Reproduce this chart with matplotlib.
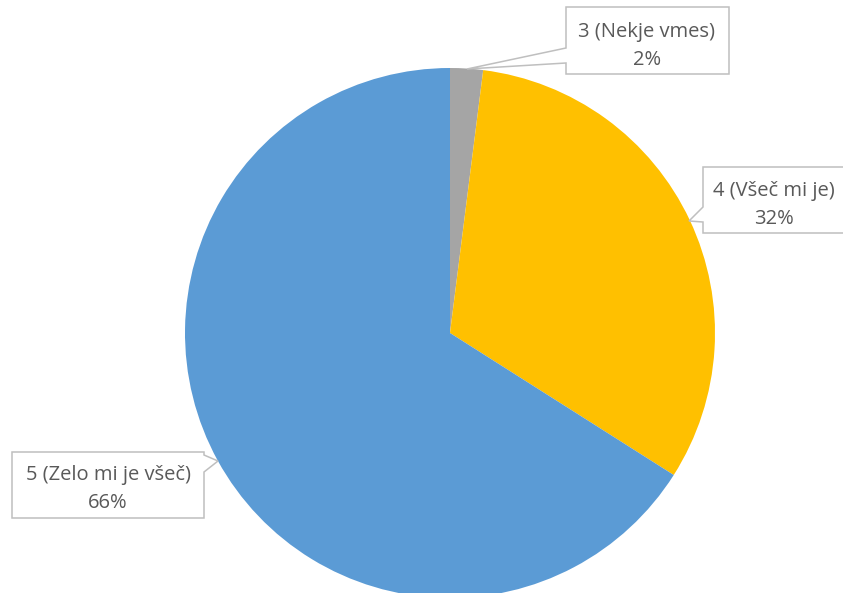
import matplotlib.pyplot as plt
from matplotlib.patches import Polygon

categories = ["3 (Nekje vmes)", "4 (Všeč mi je)", "5 (Zelo mi je všeč)"]
shares = [2, 32, 66]
colors = ["#A5A5A5", "#FFC000", "#5B9BD5"]

W, H = 843, 593

# callout shapes in image pixels (y down): outline polygon and text centre
callouts = [
    ([(566, 7), (729, 7), (729, 74), (566, 74), (566, 63), (467, 69), (566, 48)], (647, 46)),
    ([(703, 167), (860, 167), (860, 233), (703, 233), (703, 222), (689, 221), (703, 207)], (774, 205)),
    ([(12, 452), (204, 452), (204, 455), (218, 461), (204, 472), (204, 518), (12, 518)], (108, 489)),
]

fig = plt.figure(figsize=(W / 100, H / 100), dpi=100)
ax = fig.add_axes([0, 0, 1, 1])

ax.pie(shares, colors=colors, startangle=90, counterclock=False,
       center=(450, H - 333), radius=265, frame=True,
       wedgeprops=dict(linewidth=0))
ax.set_xlim(0, W)
ax.set_ylim(0, H)
ax.set_aspect("equal")
ax.axis("off")

for (pts, (tx, ty)), cat, val in zip(callouts, categories, shares):
    poly = Polygon([(x, H - y) for x, y in pts], closed=True, facecolor="white",
                   edgecolor="#BFBFBF", linewidth=1.1, zorder=3)
    ax.add_patch(poly)
    ax.text(tx, H - ty, f"{cat}\n{val}%", ha="center", va="center",
            fontsize=14.5, color="#595959", family="Open Sans",
            linespacing=1.55, zorder=4)

fig.savefig("out.png", dpi=100)
